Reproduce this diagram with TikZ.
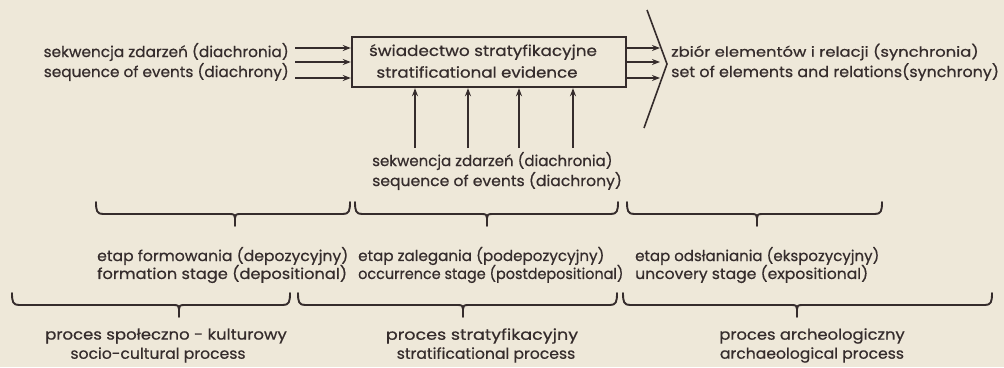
\documentclass[tikz,border=0pt]{standalone}
\usepackage{fontspec}
\setmainfont{Poppins}[FakeBold=0.6]
\usetikzlibrary{arrows.meta}
\definecolor{ink}{HTML}{352C2C}
\definecolor{paper}{HTML}{EEE8D9}
\newcommand{\sx}[2]{\scalebox{#1}[1]{#2}}
\newcommand{\brc}[4]{%
  \draw[brline] (#1,#4-12) .. controls (#1,#4-3) and (#1+1,#4) .. (#1+7,#4)
    -- (#3-5,#4) .. controls (#3-1,#4) and (#3,#4+1) .. (#3,#4+4) -- (#3,#4+12);
  \draw[brline] (#3,#4+4) .. controls (#3,#4+1) and (#3+1,#4) .. (#3+5,#4)
    -- (#2-7,#4) .. controls (#2-1,#4) and (#2,#4-3) .. (#2,#4-12);
}
\begin{document}
\begin{tikzpicture}[x=1pt,y=-1pt,
  txt/.style={text=ink,font=\fontsize{15}{17}\selectfont,inner sep=0pt},
  arr/.style={draw=ink,line width=2.2pt,-{Stealth[length=8pt,width=6pt]}},
  brline/.style={draw=ink,line width=1.9pt,line cap=round,line join=round},
  boxst/.style={draw=ink,line width=2.4pt,minimum width=274pt,minimum height=50pt,inner sep=0pt}]
\fill[paper] (0,0) rectangle (1004,367);
\useasboundingbox (0,0) rectangle (1004,367);

% central box
\node[boxst] (box) at (489,62) {};
\node[txt] (bx1) at (483,52) {\sx{1.12}{świadectwo stratyfikacyjne}};
\node[txt] (bx2) at (477,72) {\sx{1.11}{stratificational evidence}};

% left inputs
\node[txt,anchor=east] (lt1) at (289,52) {\sx{1.02}{sekwencja zdarzeń (diachronia)}};
\node[txt,anchor=east] (lt2) at (289,72) {\sx{1.02}{sequence of events (diachrony)}};
\coordinate (l1) at (295,48);
\coordinate (l2) at (295,62);
\coordinate (l3) at (295,78);
\foreach \c in {l1,l2,l3} \draw[arr] (\c) -- (\c -| box.west);

% right outputs
\coordinate (r1) at (660,48);
\coordinate (r2) at (660,62);
\coordinate (r3) at (660,78);
\foreach \c in {r1,r2,r3} \draw[arr] (\c -| box.east) -- (\c);
\coordinate (ch1) at (647,10);
\coordinate (ch2) at (667,64);
\coordinate (ch3) at (644,128);
\draw[draw=ink,line width=1.6pt] (ch1) -- (ch2) -- (ch3);
\node[txt,anchor=west,font=\fontsize{14}{16}\selectfont] (rt1) at (671,52) {\sx{1.17}{zbiór elementów i relacji (synchronia)}};
\node[txt,anchor=west] (rt2) at (671,72) {\sx{1.06}{set of elements and relations(synchrony)}};

% bottom inputs
\coordinate (b1) at (415,148);
\coordinate (b2) at (468,148);
\coordinate (b3) at (519,148);
\coordinate (b4) at (573,148);
\foreach \c in {b1,b2,b3,b4} \draw[arr] (\c) -- (\c |- box.south);
\node[txt,anchor=west] (bt1) at (372,161) {sekwencja zdarzeń (diachronia)};
\node[txt,anchor=west] (bt2) at (372,181) {\sx{1.04}{sequence of events (diachrony)}};

% row 1 braces
\brc{96}{350}{235}{214}
\brc{355}{618}{487}{214}
\brc{627}{882}{757}{214}
\node[txt,anchor=west] (s1a) at (97,256) {\sx{1.04}{etap formowania (depozycyjny)}};
\node[txt,anchor=west] (s1b) at (97,274) {\sx{1.08}{formation stage (depositional)}};
\node[txt,anchor=west] (s2a) at (358,256) {\sx{1.01}{etap zalegania (podepozycyjny)}};
\node[txt,anchor=west] (s2b) at (358,274) {\sx{0.96}{occurrence stage (postdepositional)}};
\node[txt,anchor=west] (s3a) at (635,256) {etap odsłaniania (ekspozycyjny)};
\node[txt,anchor=west] (s3b) at (635,274) {\sx{1.04}{uncovery stage (expositional)}};

% row 2 braces
\brc{12}{290}{179}{305}
\brc{298}{617}{463}{305}
\brc{623}{992}{797}{305}
\node[txt] (p1a) at (166,336) {\sx{1.1}{proces społeczno - kulturowy}};
\node[txt] (p1b) at (158,355) {\sx{1.04}{socio-cultural process}};
\node[txt] (p2a) at (482,336) {\sx{1.17}{proces stratyfikacyjny}};
\node[txt] (p2b) at (486,355) {\sx{1.04}{stratificational process}};
\node[txt] (p3a) at (812,336) {\sx{1.09}{proces archeologiczny}};
\node[txt] (p3b) at (812,355) {\sx{1.04}{archaeological process}};
\end{tikzpicture}
\end{document}
